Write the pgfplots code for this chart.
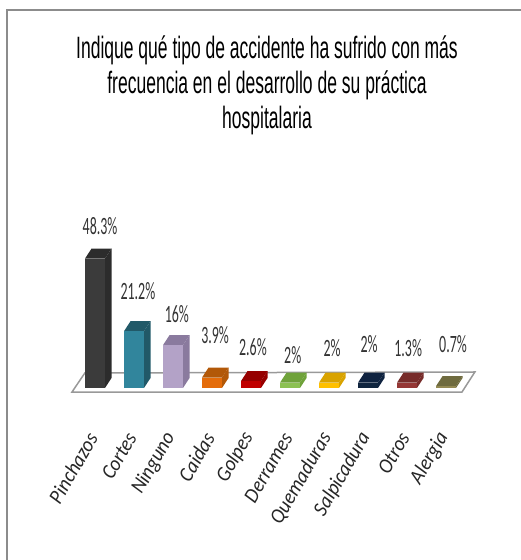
\documentclass[border=0pt]{standalone}
\usepackage{fontspec}
\setmainfont{Carlito}
\newfontfamily\titlefont{Liberation Sans}
\usepackage{pgfplots}
\pgfplotsset{compat=1.18}

\definecolor{c1}{HTML}{3B3B3B}\definecolor{d1}{HTML}{2C2C2C}
\definecolor{c2}{HTML}{31859C}\definecolor{d2}{HTML}{215968}
\definecolor{c3}{HTML}{B3A2C7}\definecolor{d3}{HTML}{8A7A9E}
\definecolor{c4}{HTML}{E46C0A}\definecolor{d4}{HTML}{B25808}
\definecolor{c5}{HTML}{C00000}\definecolor{d5}{HTML}{960000}
\definecolor{c6}{HTML}{8CC152}\definecolor{d6}{HTML}{6FA23A}
\definecolor{c7}{HTML}{FFC000}\definecolor{d7}{HTML}{D9A300}
\definecolor{c8}{HTML}{10253F}\definecolor{d8}{HTML}{0F2340}
\definecolor{c9}{HTML}{953735}\definecolor{d9}{HTML}{772C2A}
\definecolor{c0}{HTML}{948A54}\definecolor{d0}{HTML}{6F6B3F}

% one 3D looking column: index, value, front, dark faces
\newcommand{\column}[4]{%
  \pgfmathsetmacro{\xl}{#1-0.256}
  \pgfmathsetmacro{\xr}{#1+0.256}
  \pgfmathsetmacro{\xbl}{#1-0.256+0.167}
  \pgfmathsetmacro{\xbr}{#1+0.256+0.167}
  \pgfmathsetmacro{\yb}{#2+3.73}
  \addplot[fill=#4,draw=none] coordinates {(\xr,0) (\xbr,3.73) (\xbr,\yb) (\xr,#2)} -- cycle;
  \addplot[fill=#4,draw=none] coordinates {(\xl,#2) (\xr,#2) (\xbr,\yb) (\xbl,\yb)} -- cycle;
  \addplot[fill=#3,draw=none] coordinates {(\xl,0) (\xr,0) (\xr,#2) (\xl,#2)} -- cycle;
}

\begin{document}
\begin{tikzpicture}[x=1bp,y=1bp]
\path[use as bounding box] (0,0) rectangle (521,560);
\draw[color=black!45,line width=1.6bp] (7,0) -- (7,550) -- (521,550);
\node[xscale=0.567,align=center,font=\titlefont\fontsize{31}{35}\selectfont] at (267,475)
  {Indique qué tipo de accidente ha sufrido con más\\frecuencia en el desarrollo de su práctica\\hospitalaria};
\begin{axis}[
    anchor=south west,
    at={(17bp,172bp)},
    x=39bp,
    y=2.68bp,
    xmin=-2, xmax=10,
    ymin=0, ymax=50,
    clip=false,
    axis line style={draw=none},
    major tick length=0pt,
    ytick=\empty,
    xtick={0,...,9},
    xticklabels={Pinchazos,Cortes,Ninguno,Caidas,Golpes,Derrames,Quemaduras,Salpicadura,Otros,Alergia},
    xticklabel style={rotate=60,anchor=east,xshift=-38bp,yshift=-21bp,
      font=\itshape\fontsize{21}{21}\selectfont,color=black!85,xscale=0.93},
]
  % floor
  \addplot[draw=black!40,line width=1.5bp,fill=white] coordinates
    {(-0.59,-1.5) (-0.26,5.6) (9.74,5.97) (9.41,-1.5)} -- cycle;
  \column{0}{48.3}{c1}{d1}
  \column{1}{21.2}{c2}{d2}
  \column{2}{16}{c3}{d3}
  \column{3}{3.9}{c4}{d4}
  \column{4}{2.6}{c5}{d5}
  \column{5}{2}{c6}{d6}
  \column{6}{2}{c7}{d7}
  \column{7}{2}{c8}{d8}
  \column{8}{2}{c9}{d9}
  \column{9}{0.7}{c0}{d0}
  % data labels, positions
  \addplot[draw=none,mark=none,point meta=explicit symbolic,
    nodes near coords={\pgfplotspointmeta\%},
    every node near coord/.style={anchor=center,xscale=0.56,
      font=\fontsize{25}{25}\selectfont,color=black!80}]
    table[x=x,y=y,meta=v] {
    x y v
    0.13 60.5 48.3
    1.10 36 21.2
    2.10 27.5 16
    3.08 19.7 3.9
    4.05 15.2 2.6
    5.07 12.4 2
    6.08 15 2
    7.03 16.5 2
    8.03 14.9 1.3
    9.18 16.2 0.7
  };
\end{axis}
\end{tikzpicture}
\end{document}
